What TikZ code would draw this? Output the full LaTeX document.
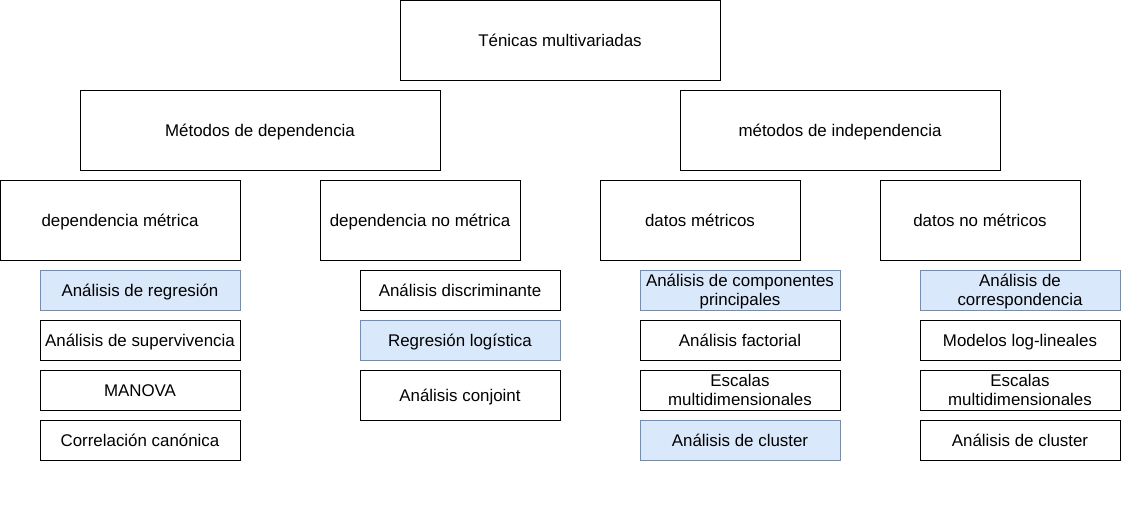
\documentclass[tikz,border=0pt]{standalone}
\usepackage{fontspec}
\setmainfont{Liberation Sans}
\definecolor{bluefill}{HTML}{DAE8FC}
\definecolor{bluestroke}{HTML}{6C8EBF}
\newcommand\toprule{\rule{0pt}{16pt}}
\newcommand\botrule{\rule[-4pt]{0pt}{4pt}}
\tikzset{
  box/.style={draw=black, fill=white, line width=1pt, inner sep=0pt, outer sep=0pt, align=center,
    font=\fontsize{16.9}{19}\selectfont, minimum width=200pt, minimum height=40pt,
    text height=17pt, text depth=4pt},
  twoline/.style={text height=, text depth=},
  bluebox/.style={box, draw=bluestroke, fill=bluefill},
}
\begin{document}
\begin{tikzpicture}[x=1pt,y=-1pt]
\useasboundingbox (0,0) rectangle (1121,504);
\node[box, minimum width=320pt, minimum height=80pt] (top) at (560,40) {Ténicas multivariadas};
\node[box, minimum width=360pt, minimum height=80pt] (dep) at (260,130) {Métodos de dependencia};
\node[box, minimum width=320pt, minimum height=80pt] (indep) at (840,130) {métodos de independencia};
\node[box, minimum width=240pt, minimum height=80pt] (dm) at (120,220) {dependencia métrica};
\node[box, minimum height=80pt] (dnm) at (420,220) {dependencia no métrica};
\node[box, minimum height=80pt] (datm) at (700,220) {datos métricos};
\node[box, minimum height=80pt] (datnm) at (980,220) {datos no métricos};
% column 1
\node[bluebox] (a1) at (140,290) {Análisis de regresión};
\node[box] (a2) at (140,340) {Análisis de supervivencia};
\node[box] (a3) at (140,390) {MANOVA};
\node[box] (a4) at (140,440) {Correlación canónica};
% column 2
\node[box] (b1) at (460,290) {Análisis discriminante};
\node[bluebox] (b2) at (460,340) {Regresión logística};
\node[box, minimum height=50pt] (b3) at (460,395) {Análisis conjoint};
% column 3
\node[bluebox, twoline] (c1) at (740,290) {\toprule Análisis de componentes\\principales\botrule};
\node[box] (c2) at (740,340) {Análisis factorial};
\node[box, twoline] (c3) at (740,390) {\toprule Escalas\\multidimensionales\botrule};
\node[bluebox] (c4) at (740,440) {Análisis de cluster};
% column 4
\node[bluebox, twoline] (d1) at (1020,290) {\toprule Análisis de\\correspondencia\botrule};
\node[box] (d2) at (1020,340) {Modelos log-lineales};
\node[box, twoline] (d3) at (1020,390) {\toprule Escalas\\multidimensionales\botrule};
\node[box] (d4) at (1020,440) {Análisis de cluster};
\end{tikzpicture}
\end{document}
